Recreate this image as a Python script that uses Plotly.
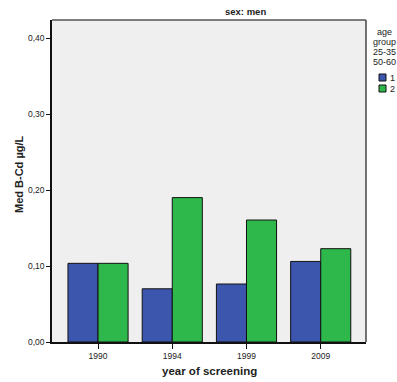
import plotly.graph_objects as go

years = ["1990", "1994", "1999", "2009"]
group1 = [0.1035, 0.070, 0.0763, 0.106]
group2 = [0.1035, 0.190, 0.1605, 0.1228]
series_names = ["1", "2"]
colors = ["#3d56ad", "#2eb84b"]
y_ticks = [0.0, 0.1, 0.2, 0.3, 0.4]

W, H = 397, 382
L, R, T, B = 52, 366, 20, 342
pw, ph = R - L, B - T

def px(x):
    return (x - L) / pw

def py(y):
    return (B - y) / ph

fig = go.Figure()
for name, vals, col in zip(series_names, [group1, group2], colors):
    fig.add_trace(go.Bar(x=years, y=vals, name=name,
                         marker=dict(color=col, line=dict(color="#111111", width=1))))

font_family = "Liberation Sans, Arial, sans-serif"
fig.update_layout(
    width=W, height=H,
    margin=dict(l=L, r=W - R, t=T, b=H - B, pad=0, autoexpand=False),
    paper_bgcolor="white", plot_bgcolor="#efefef",
    barmode="group", bargap=0.19, bargroupgap=0,
    showlegend=False,
    separators=", ",
    font=dict(family=font_family, size=9, color="#222222"),
)
fig.update_xaxes(
    type="category", range=[-0.62, 3.61], automargin=False,
    showline=True, linecolor="#111111", linewidth=1.5,
    ticks="outside", ticklen=5, tickcolor="#111111",
    tickfont=dict(size=8.5), showgrid=False, zeroline=False,
)
fig.update_yaxes(
    range=[0, 0.4237], tickvals=y_ticks, tickformat=".2f", automargin=False,
    showline=True, linecolor="#111111", linewidth=1.5,
    ticks="outside", ticklen=4, tickcolor="#111111",
    tickfont=dict(size=8.5), showgrid=False, zeroline=False,
)
# axis titles
fig.add_annotation(text="<b>year of screening</b>", xref="paper", yref="paper",
                   x=px(209), y=py(371), xanchor="center", yanchor="middle",
                   showarrow=False, font=dict(size=11.5))
fig.add_annotation(text="<b>Med B-Cd µg/L</b>", xref="paper", yref="paper",
                   x=px(19), y=py(175), xanchor="center", yanchor="middle",
                   textangle=-90, showarrow=False, font=dict(size=11))
# top/right frame
fig.add_shape(type="line", xref="paper", yref="paper", x0=0, x1=1, y0=1, y1=1,
              line=dict(color="#555555", width=1.5))
fig.add_shape(type="line", xref="paper", yref="paper", x0=1, x1=1, y0=0, y1=1,
              line=dict(color="#444444", width=1.5))

# facet title
fig.add_annotation(text="<b>sex: men</b>", xref="paper", yref="paper",
                   x=px(245), y=py(12), xanchor="center", yanchor="middle",
                   showarrow=False, font=dict(size=9.5))

# legend title lines
for i, line in enumerate(["age", "group", "25-35", "50-60"]):
    fig.add_annotation(text=line, xref="paper", yref="paper",
                       x=px(384), y=py(32 + 10 * i), xanchor="center", yanchor="middle",
                       showarrow=False, font=dict(size=9))
# legend entries
for i, (name, col) in enumerate(zip(series_names, colors)):
    yc = 77.5 + 11 * i
    fig.add_shape(type="rect", xref="paper", yref="paper",
                  x0=px(379), x1=px(386), y0=py(yc - 3.5), y1=py(yc + 3.5),
                  fillcolor=col, line=dict(color="#111111", width=1))
    fig.add_annotation(text=name, xref="paper", yref="paper",
                       x=px(388), y=py(yc), xanchor="left", yanchor="middle",
                       showarrow=False, font=dict(size=9))

fig.write_html("out.html", config={"displayModeBar": False},
               post_script="document.body.style.margin='0';document.body.style.overflow='hidden';")
